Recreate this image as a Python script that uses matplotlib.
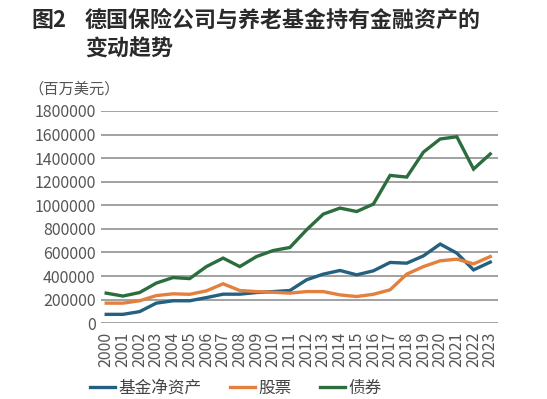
import matplotlib
matplotlib.use('Agg')
import matplotlib.pyplot as plt

plt.rcParams['font.family'] = ['Noto Sans CJK SC', 'DejaVu Sans']

years = [str(y) for y in range(2000, 2024)]
fund_net = [75000, 75000, 98000, 170000, 190000, 190000, 217000, 246000, 246000, 260000,
            268000, 277000, 368000, 416000, 447000, 410000, 444000, 515000, 509000, 571000,
            671000, 594000, 452000, 518000]
stocks = [170000, 170000, 190000, 234000, 249000, 245000, 274000, 334000, 277000, 268000,
          262000, 255000, 268000, 268000, 240000, 226000, 245000, 283000, 416000, 480000,
          529000, 543000, 503000, 565000]
bonds = [255000, 230000, 260000, 340000, 387000, 378000, 480000, 552000, 480000, 565000,
         616000, 642000, 792000, 925000, 976000, 947000, 1010000, 1253000, 1239000, 1451000,
         1562000, 1581000, 1307000, 1435000]
series_names = ['基金净资产', '股票', '债券']
colors = ['#24607f', '#e57f3e', '#2b6d3d']

fig = plt.figure(figsize=(5.47, 3.99), dpi=100)
ax = fig.add_axes([0.185, 0.19, 0.725, 0.532])

x = range(len(years))
for vals, name, c in zip([fund_net, stocks, bonds], series_names, colors):
    ax.plot(x, vals, color=c, lw=2.4, label=name, solid_joinstyle='miter')

ax.set_ylim(0, 1800000)
ax.set_xlim(-0.3, 23.45)
ax.set_yticks(range(0, 1800001, 200000))
ax.set_yticklabels([str(v) for v in range(0, 1800001, 200000)])
ax.set_xticks(list(x))
ax.set_xticklabels(years, rotation=90)
ax.tick_params(length=0, labelsize=11.5, colors='#555555', pad=4)
ax.tick_params(axis='x', pad=6)
ax.grid(axis='y', color='#9a9a9a', lw=1.3)
ax.set_axisbelow(True)
for s in ax.spines.values():
    s.set_visible(False)

fig.text(0.058, 0.948, '图2', fontsize=15.8, color='#2a2a2a', va='center', fontweight='bold')
fig.text(0.155, 0.948, '德国保险公司与养老基金持有金融资产的', fontsize=15.8, color='#2a2a2a',
         va='center', fontweight='bold')
fig.text(0.155, 0.878, '变动趋势', fontsize=15.8, color='#2a2a2a', va='center', fontweight='bold')
fig.text(0.052, 0.778, '（百万美元）', fontsize=11, color='#555555', va='center')

ax.legend(loc='center', bbox_to_anchor=(0.34, -0.305), ncol=3, frameon=False,
          fontsize=12, handlelength=1.5, handletextpad=0.2, columnspacing=1.7,
          labelcolor='#444444')

fig.savefig('out.png', dpi=100)
